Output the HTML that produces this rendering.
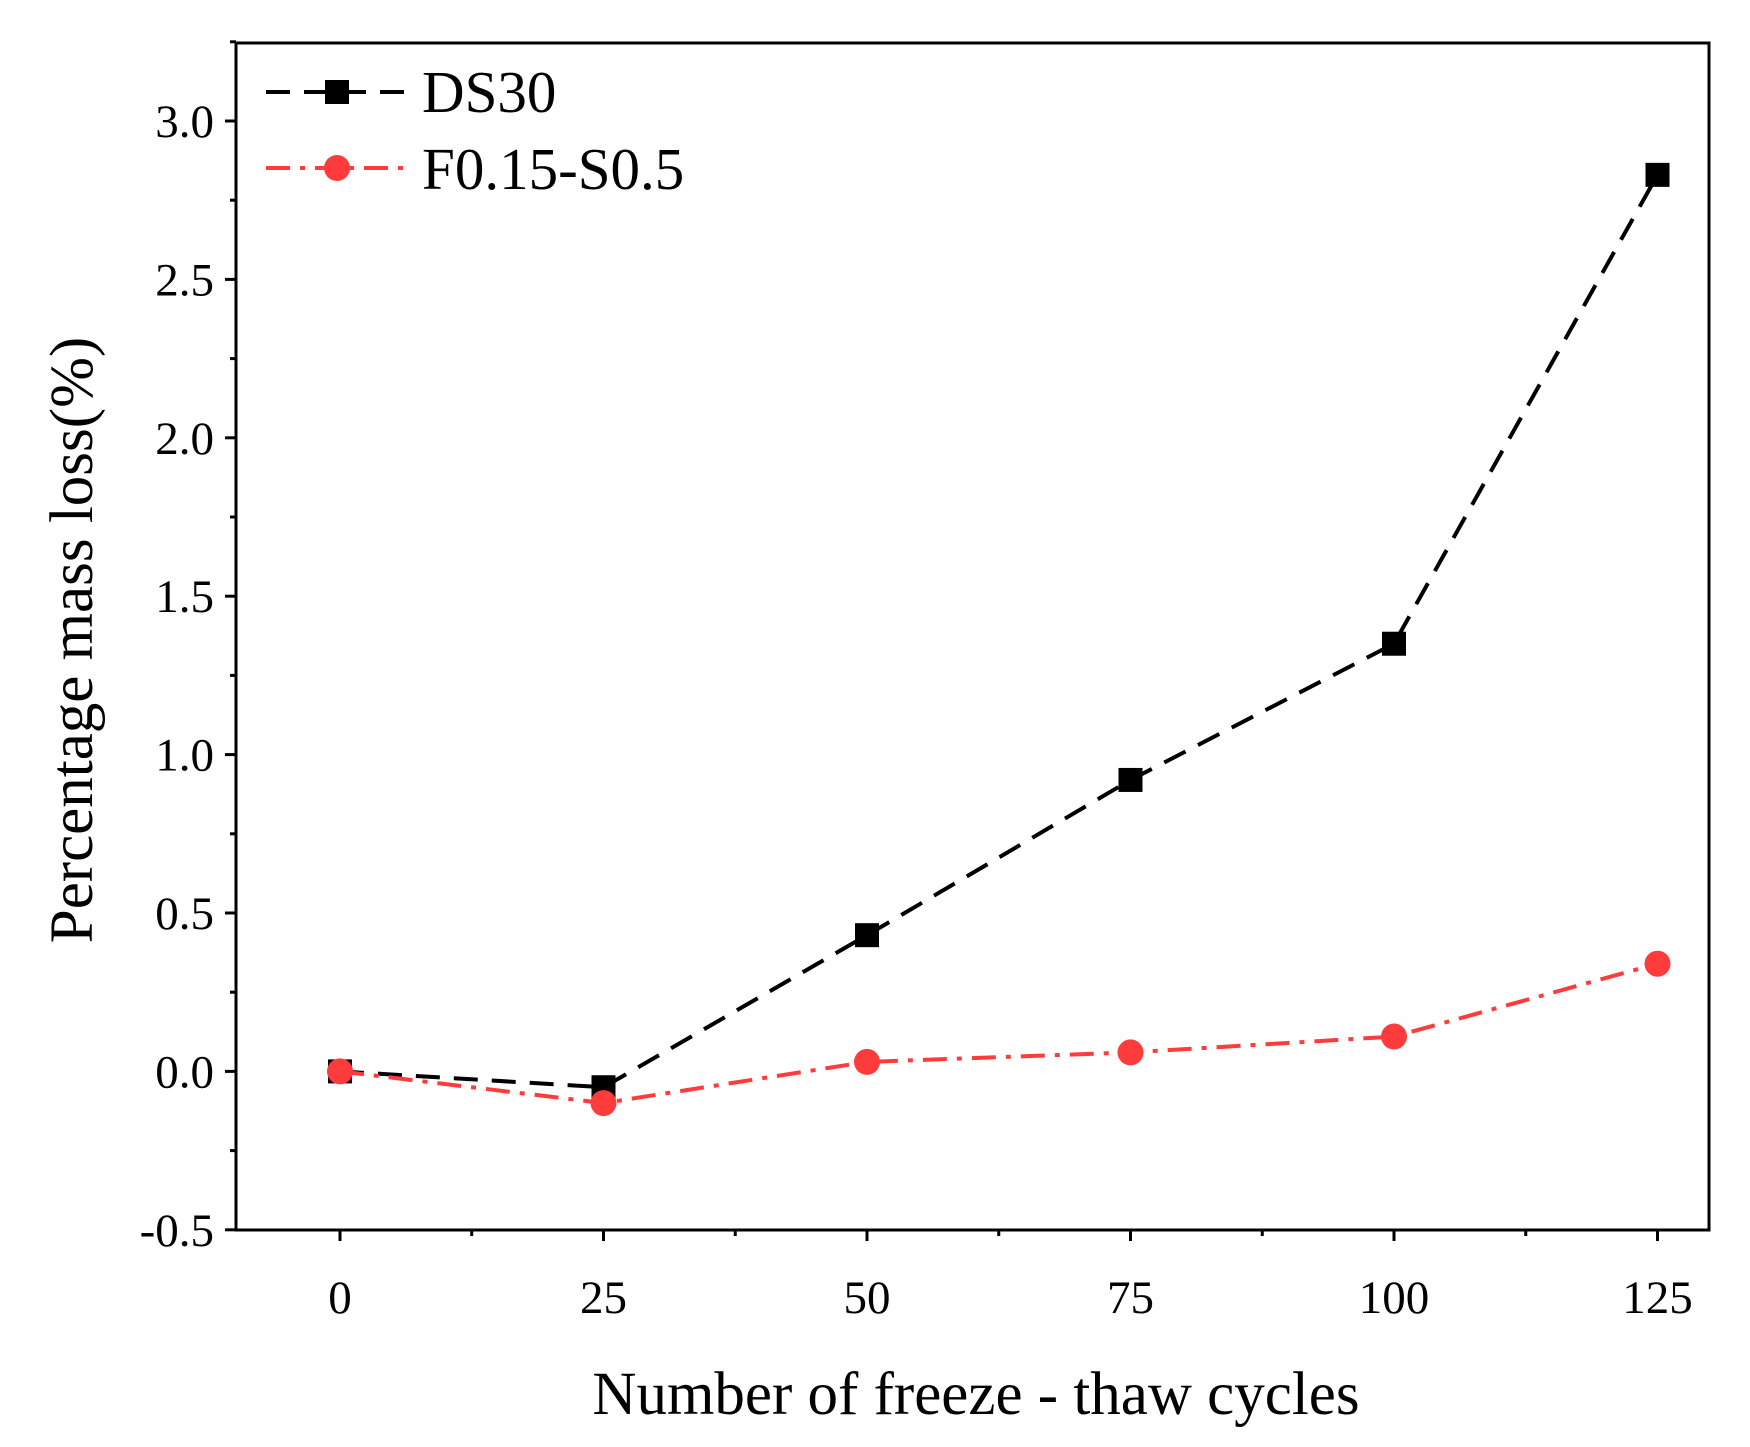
<!DOCTYPE html>
<html><head><meta charset="utf-8"><style>
html,body{margin:0;padding:0;background:#fff;}
svg{display:block;font-family:"Liberation Serif",serif;}
</style></head><body>
<svg id="chart" width="1750" height="1447" viewBox="0 0 1750 1447" xmlns="http://www.w3.org/2000/svg">
<g id="axes"></g>
<g id="series"></g>
<g id="legend"></g>
<text x="976" y="1414" font-size="61" text-anchor="middle">Number of freeze - thaw cycles</text>
<text transform="translate(92,640) rotate(-90)" font-size="61" text-anchor="middle">Percentage mass loss(%)</text>
</svg>
<script>
const categories=[0,25,50,75,100,125];
const ds30=[0,-0.05,0.43,0.92,1.35,2.83];
const f015=[0,-0.1,0.03,0.06,0.11,0.34];
const yTicks=[-0.5,0.0,0.5,1.0,1.5,2.0,2.5,3.0];
const xTicks=[0,25,50,75,100,125];
const NS="http://www.w3.org/2000/svg";
const L=236,R=1709,T=43,B=1230;
const YS=158.4, XS=263.5;
function xs(v){return 340+(v/25)*XS;}
function ys(v){return 1071.4-(v/0.5)*YS;}
function mk(tag,attrs,parent){const e=document.createElementNS(NS,tag);for(const k in attrs)e.setAttribute(k,attrs[k]);parent.appendChild(e);return e;}
const ax=document.getElementById('axes');
const frame=mk('rect',{x:L,y:T,width:R-L,height:B-T,fill:'none',stroke:'#000','stroke-width':3},ax);


yTicks.forEach((v,i)=>{
  const y=ys(v);
  const t=mk('line',{x1:L-11,x2:L,y1:y,y2:y,stroke:'#000','stroke-width':3},ax);
  
  
  const m=mk('line',{x1:L-6,x2:L,y1:y-YS/2,y2:y-YS/2,stroke:'#000','stroke-width':3},ax);
  
  
  const lb=mk('text',{x:L-22,y:y+16,'font-size':47,'text-anchor':'end'},ax);
  lb.textContent=v.toFixed(1);
  
  
});
xTicks.forEach((v,i)=>{
  const x=xs(v);
  const t=mk('line',{x1:x,x2:x,y1:B,y2:B+11,stroke:'#000','stroke-width':3},ax);
  
  
  const mx=xs(v+12.5);
  if(mx<R){const m=mk('line',{x1:mx,x2:mx,y1:B,y2:B+6,stroke:'#000','stroke-width':3},ax);
  
  }
  const lb=mk('text',{x:x,y:1313,'font-size':47,'text-anchor':'middle'},ax);
  lb.textContent=String(v);
  
  
});
const sg=document.getElementById('series');
function drawSeries(vals,color,dash,shape,name){
  const pts=vals.map((v,i)=>xs(categories[i])+','+ys(v)).join(' ');
  const pl=mk('polyline',{points:pts,fill:'none',stroke:color,'stroke-width':4,'stroke-dasharray':dash},sg);
  
  
  vals.forEach((v,i)=>{
    const x=xs(categories[i]),y=ys(v);
    let e;
    if(shape==='sq'){e=mk('rect',{x:x-12,y:y-12,width:24,height:24,fill:color},sg);}
    else{e=mk('circle',{cx:x,cy:y,r:13,fill:color},sg);}
    
    
  });
}
drawSeries(ds30,'#000','24,14','sq','ds30');
drawSeries(f015,'#ff3b3b','24,10,5,10','ci','f015');
const lg=document.getElementById('legend');
const l1=mk('line',{x1:266,x2:410,y1:92,y2:92,stroke:'#000','stroke-width':4,'stroke-dasharray':'24,14'},lg);


const s1=mk('rect',{x:325,y:80,width:24,height:24,fill:'#000'},lg);


const t1=mk('text',{x:422,y:112,'font-size':59},lg);t1.textContent='DS30';


const l2=mk('line',{x1:266,x2:410,y1:168,y2:168,stroke:'#ff3b3b','stroke-width':4,'stroke-dasharray':'24,10,5,10'},lg);


const c2=mk('circle',{cx:337,cy:168,r:13,fill:'#ff3b3b'},lg);


const t2=mk('text',{x:422,y:189,'font-size':59},lg);t2.textContent='F0.15-S0.5';


</script>
</body></html>
